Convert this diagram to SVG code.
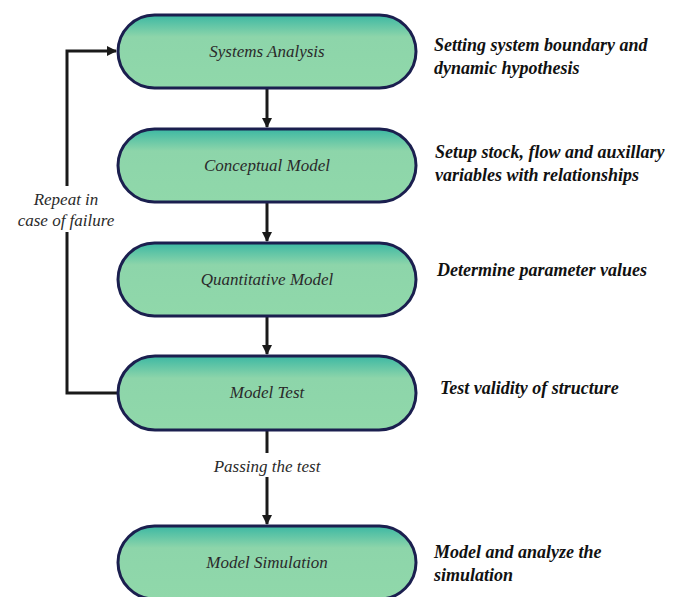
<svg xmlns="http://www.w3.org/2000/svg" width="684" height="597" viewBox="0 0 684 597">
<defs>
<linearGradient id="g" x1="0" y1="0" x2="0" y2="1">
<stop offset="0" stop-color="#3cb8a3"/>
<stop offset="0.3" stop-color="#8dd5aa"/>
<stop offset="1" stop-color="#90d8aa"/>
</linearGradient>
<marker id="ah" markerWidth="10" markerHeight="10" refX="9" refY="5" orient="auto" markerUnits="userSpaceOnUse">
<path d="M0,0 L10,5 L0,10 Z" fill="#1a1a1a"/>
</marker>
<style>
.box{fill:url(#g);stroke:#1b1f4f;stroke-width:3}
.nt{font-family:'Liberation Serif','Times New Roman',serif;font-style:italic;font-size:17px;fill:#2a2a2a;text-anchor:middle}
.rt{font-family:'Liberation Serif','Times New Roman',serif;font-style:italic;font-weight:bold;font-size:18px;fill:#111}
.lt{font-family:'Liberation Serif','Times New Roman',serif;font-style:italic;font-size:17px;fill:#2a2a2a;text-anchor:middle}
.ln{stroke:#1a1a1a;stroke-width:3;fill:none}
</style>
</defs>
<rect width="684" height="597" fill="#fff"/>
<g id="connectors">
<line class="ln" x1="267" y1="88" x2="267" y2="127" marker-end="url(#ah)"/>
<line class="ln" x1="267" y1="202" x2="267" y2="241" marker-end="url(#ah)"/>
<line class="ln" x1="267" y1="316" x2="267" y2="354" marker-end="url(#ah)"/>
<line class="ln" x1="267" y1="430" x2="267" y2="524" marker-end="url(#ah)"/>
<polyline class="ln" points="118,393 67,393 67,51 116,51" marker-end="url(#ah)"/>
<rect x="12" y="186" width="112" height="46" fill="#fff"/>
<text class="lt" x="66" y="205">Repeat in</text>
<text class="lt" x="66" y="226">case of failure</text>
<rect x="206" y="453" width="122" height="24" fill="#fff"/>
<text class="lt" x="267" y="472">Passing the test</text>
</g>
<g id="systems-analysis">
<rect class="box" x="118" y="15" width="298" height="73" rx="36.5"/>
<text class="nt" x="267" y="57">Systems Analysis</text>
</g>
<g id="conceptual-model">
<rect class="box" x="118" y="129" width="298" height="73" rx="36.5"/>
<text class="nt" x="267" y="171">Conceptual Model</text>
</g>
<g id="quantitative-model">
<rect class="box" x="118" y="243" width="298" height="73" rx="36.5"/>
<text class="nt" x="267" y="285">Quantitative Model</text>
</g>
<g id="model-test">
<rect class="box" x="118" y="356" width="298" height="74" rx="37"/>
<text class="nt" x="267" y="398">Model Test</text>
</g>
<g id="model-simulation">
<rect class="box" x="118" y="526" width="298" height="73" rx="36.5"/>
<text class="nt" x="267" y="568">Model Simulation</text>
</g>
<g id="notes">
<text class="rt" x="434" y="51">Setting system boundary and</text>
<text class="rt" x="434" y="74">dynamic hypothesis</text>
<text class="rt" x="435" y="158">Setup stock, flow and auxillary</text>
<text class="rt" x="435" y="181">variables with relationships</text>
<text class="rt" x="437" y="276">Determine parameter values</text>
<text class="rt" x="440" y="394">Test validity of structure</text>
<text class="rt" x="434" y="558">Model and analyze the</text>
<text class="rt" x="434" y="581">simulation</text>
</g>
</svg>
